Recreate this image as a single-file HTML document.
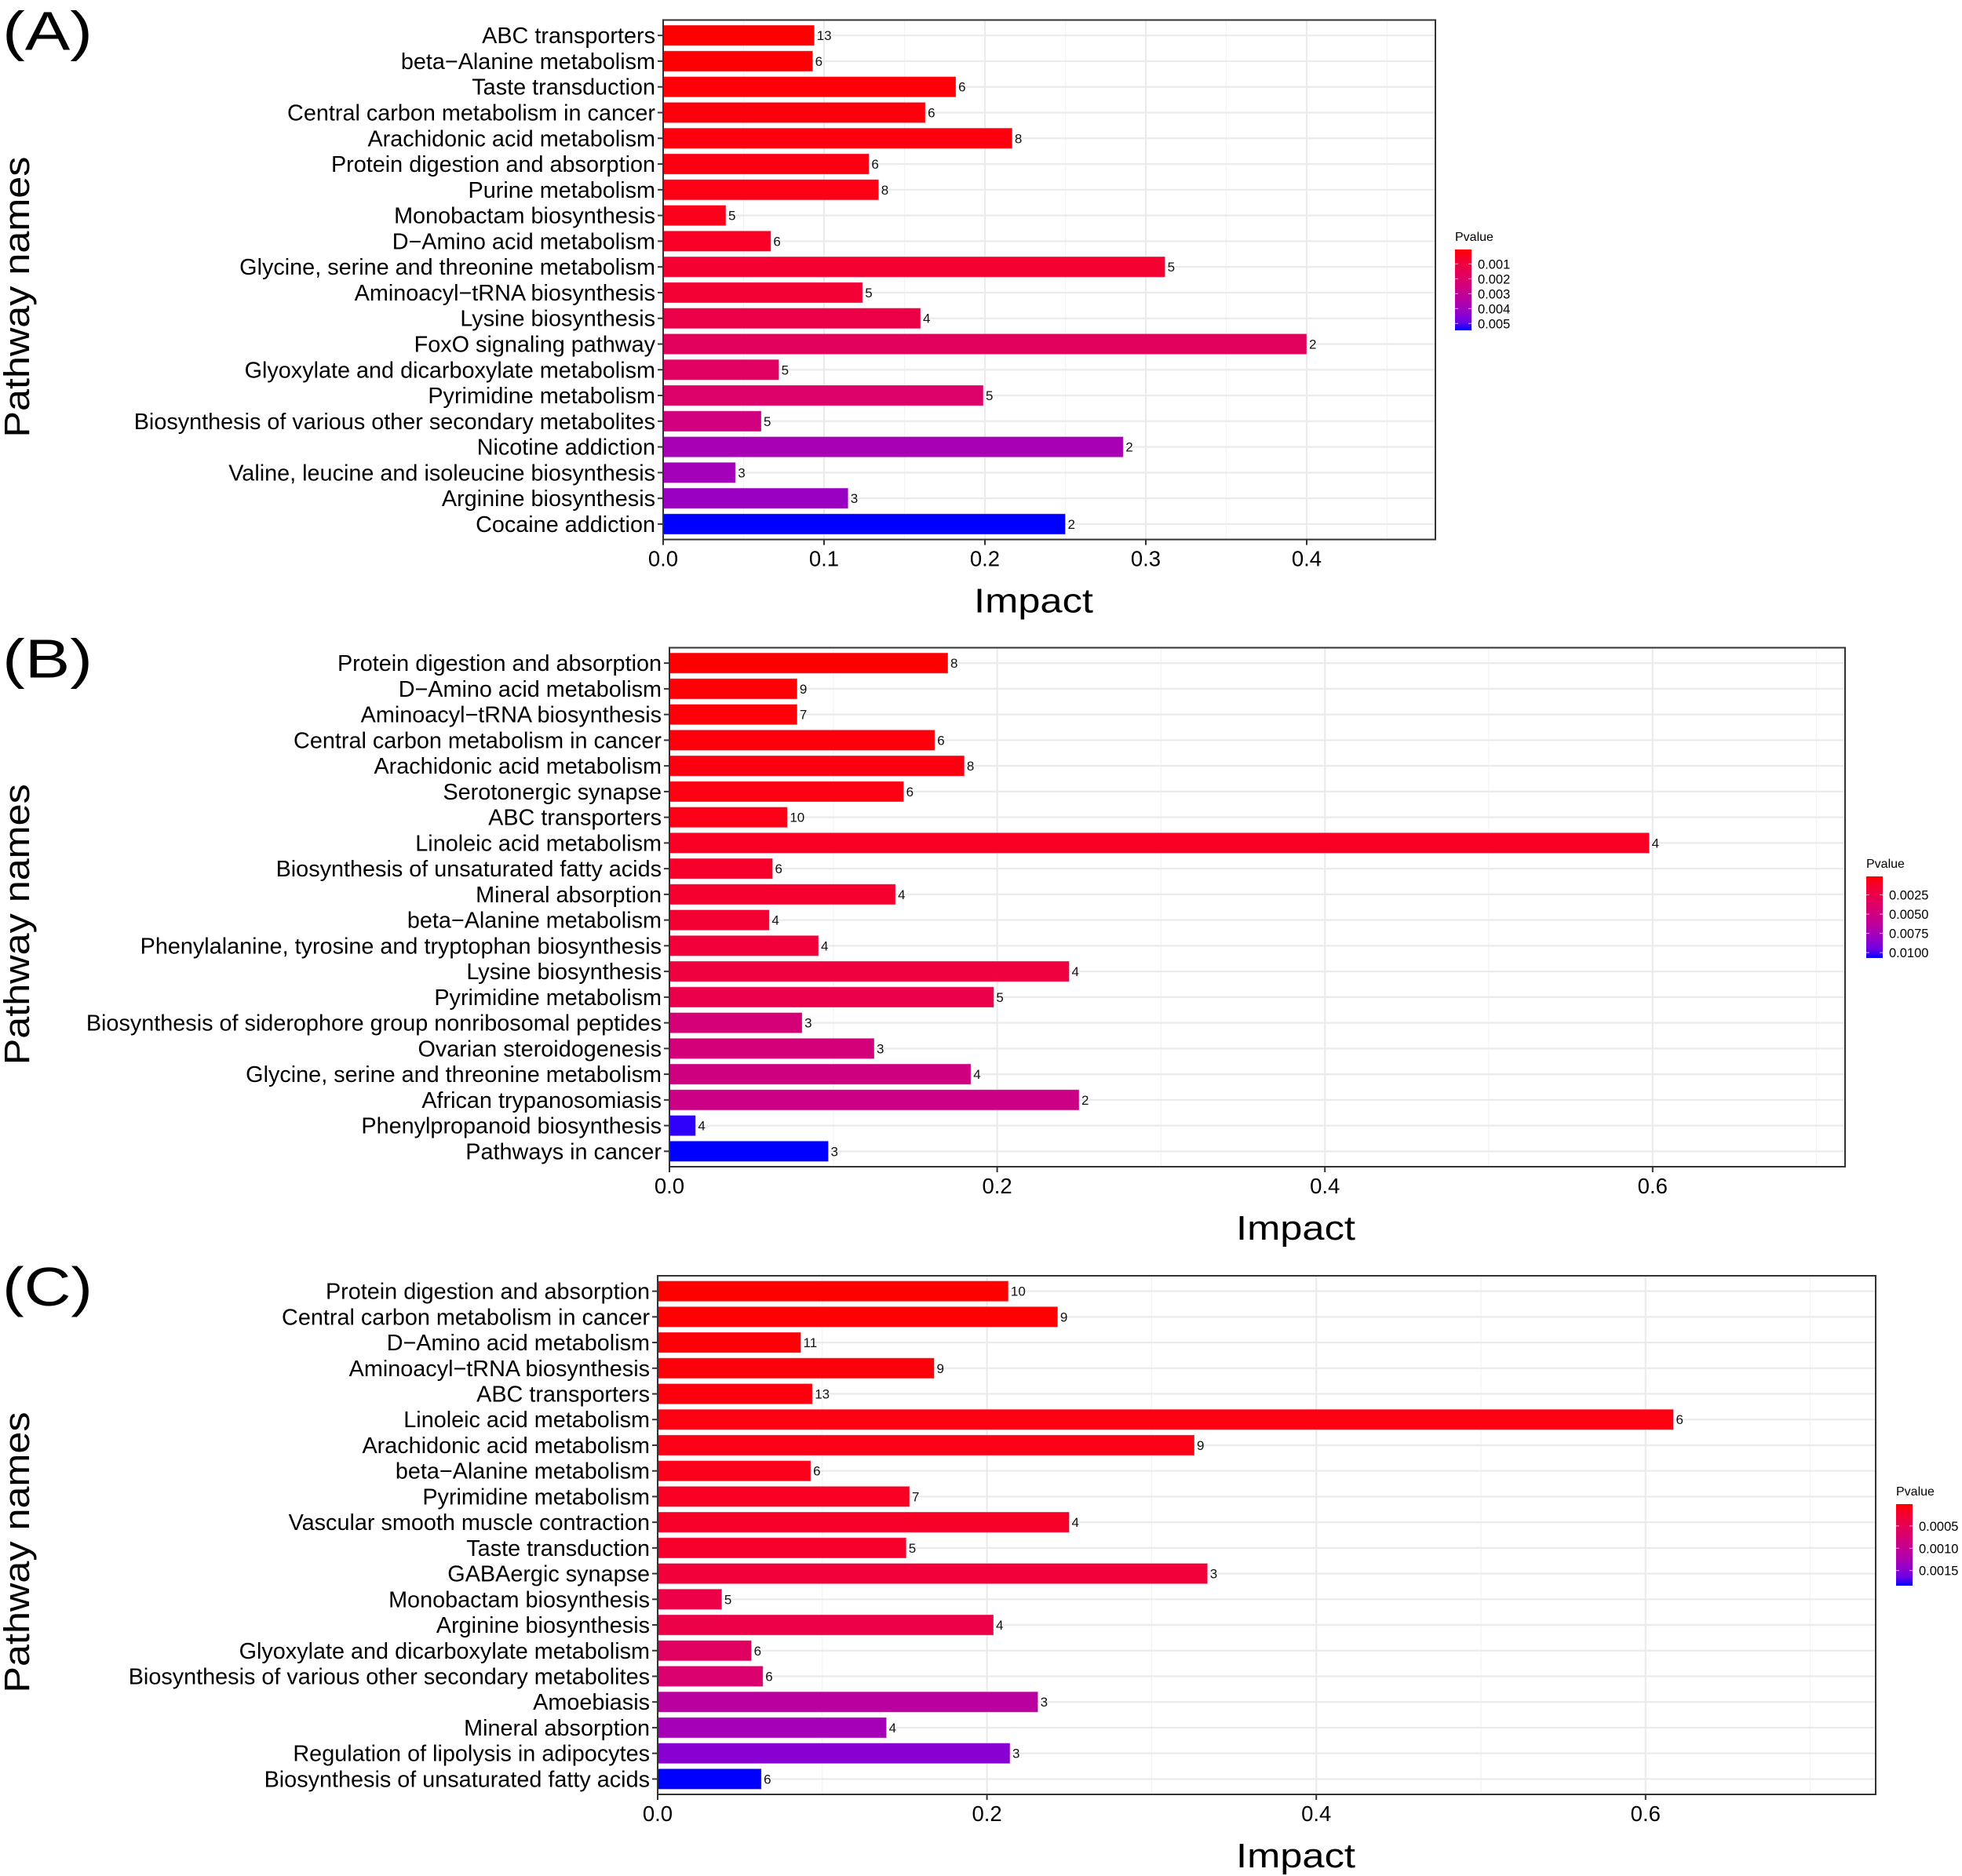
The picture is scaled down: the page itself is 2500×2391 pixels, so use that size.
<!DOCTYPE html>
<html><head><meta charset="utf-8"><style>
html,body{margin:0;padding:0;background:#fff;}
svg{display:block;font-family:"Liberation Sans",Arial,sans-serif;}
</style></head><body>
<svg id="fig" width="2500" height="2391" viewBox="0 0 2500 2391" xmlns="http://www.w3.org/2000/svg"></svg>
<script>
// ---------- Panel A data ----------
const catsA = ["ABC transporters","beta\u2212Alanine metabolism","Taste transduction","Central carbon metabolism in cancer","Arachidonic acid metabolism","Protein digestion and absorption","Purine metabolism","Monobactam biosynthesis","D\u2212Amino acid metabolism","Glycine, serine and threonine metabolism","Aminoacyl\u2212tRNA biosynthesis","Lysine biosynthesis","FoxO signaling pathway","Glyoxylate and dicarboxylate metabolism","Pyrimidine metabolism","Biosynthesis of various other secondary metabolites","Nicotine addiction","Valine, leucine and isoleucine biosynthesis","Arginine biosynthesis","Cocaine addiction"];
const impactA = [0.094,0.093,0.182,0.163,0.217,0.128,0.134,0.039,0.067,0.312,0.124,0.160,0.400,0.072,0.199,0.061,0.286,0.045,0.115,0.250];
const countA = [13,6,6,6,8,6,8,5,6,5,5,4,2,5,5,5,2,3,3,2];
const pA = [0.00003,0.00005,0.0001,0.00012,0.00015,0.0002,0.00025,0.0003,0.0005,0.0007,0.0008,0.0012,0.0017,0.0018,0.002,0.0025,0.0038,0.0039,0.0041,0.00546];
const xTicksA = [0,0.1,0.2,0.3,0.4];
const xTickLabelsA = ["0.0","0.1","0.2","0.3","0.4"];
const legendA = [0.001,0.002,0.003,0.004,0.005];
const legendLabelsA = ["0.001","0.002","0.003","0.004","0.005"];

// ---------- Panel B data ----------
const catsB = ["Protein digestion and absorption","D\u2212Amino acid metabolism","Aminoacyl\u2212tRNA biosynthesis","Central carbon metabolism in cancer","Arachidonic acid metabolism","Serotonergic synapse","ABC transporters","Linoleic acid metabolism","Biosynthesis of unsaturated fatty acids","Mineral absorption","beta\u2212Alanine metabolism","Phenylalanine, tyrosine and tryptophan biosynthesis","Lysine biosynthesis","Pyrimidine metabolism","Biosynthesis of siderophore group nonribosomal peptides","Ovarian steroidogenesis","Glycine, serine and threonine metabolism","African trypanosomiasis","Phenylpropanoid biosynthesis","Pathways in cancer"];
const impactB = [0.170,0.078,0.078,0.162,0.180,0.143,0.072,0.598,0.063,0.138,0.061,0.091,0.244,0.198,0.081,0.125,0.184,0.250,0.016,0.097];
const countB = [8,9,7,6,8,6,10,4,6,4,4,4,4,5,3,3,4,2,4,3];
const pB = [0.0001,0.0002,0.00025,0.0003,0.00035,0.0004,0.0005,0.001,0.0012,0.0013,0.0015,0.0018,0.002,0.0025,0.0045,0.0047,0.005,0.0052,0.0105,0.0107];
const xTicksB = [0,0.2,0.4,0.6];
const xTickLabelsB = ["0.0","0.2","0.4","0.6"];
const legendB = [0.0025,0.005,0.0075,0.01];
const legendLabelsB = ["0.0025","0.0050","0.0075","0.0100"];

// ---------- Panel C data ----------
const catsC = ["Protein digestion and absorption","Central carbon metabolism in cancer","D\u2212Amino acid metabolism","Aminoacyl\u2212tRNA biosynthesis","ABC transporters","Linoleic acid metabolism","Arachidonic acid metabolism","beta\u2212Alanine metabolism","Pyrimidine metabolism","Vascular smooth muscle contraction","Taste transduction","GABAergic synapse","Monobactam biosynthesis","Arginine biosynthesis","Glyoxylate and dicarboxylate metabolism","Biosynthesis of various other secondary metabolites","Amoebiasis","Mineral absorption","Regulation of lipolysis in adipocytes","Biosynthesis of unsaturated fatty acids"];
const impactC = [0.213,0.243,0.087,0.168,0.094,0.617,0.326,0.093,0.153,0.250,0.151,0.334,0.039,0.204,0.057,0.064,0.231,0.139,0.214,0.063];
const countC = [10,9,11,9,13,6,9,6,7,4,5,3,5,4,6,6,3,4,3,6];
const pC = [0.00001,0.00002,0.00003,0.00004,0.00005,0.00006,0.00008,0.0001,0.00015,0.00018,0.0002,0.0003,0.0004,0.0004,0.0006,0.0007,0.0011,0.0013,0.0015,0.00184];
const xTicksC = [0,0.2,0.4,0.6];
const xTickLabelsC = ["0.0","0.2","0.4","0.6"];
const legendC = [0.0005,0.001,0.0015];
const legendLabelsC = ["0.0005","0.0010","0.0015"];

const NS = "http://www.w3.org/2000/svg";
const svg = document.getElementById('fig');
function mk(tag, attrs, parent){const e=document.createElementNS(NS,tag);for(const k in attrs)e.setAttribute(k,attrs[k]);(parent||svg).appendChild(e);return e;}

function srgb2lin(c){c/=255;return c<=0.04045?c/12.92:Math.pow((c+0.055)/1.055,2.4);}
function lin2srgb(c){c=c<=0.0031308?12.92*c:1.055*Math.pow(c,1/2.4)-0.055;return Math.max(0,Math.min(255,Math.round(c*255)));}
function rgb2lab(r,g,b){r=srgb2lin(r);g=srgb2lin(g);b=srgb2lin(b);
 let x=(0.4124*r+0.3576*g+0.1805*b)/0.95047,y=(0.2126*r+0.7152*g+0.0722*b),z=(0.0193*r+0.1192*g+0.9505*b)/1.08883;
 const f=t=>t>0.008856?Math.cbrt(t):7.787*t+16/116;x=f(x);y=f(y);z=f(z);return [116*y-16,500*(x-y),200*(y-z)];}
function lab2rgb(L,a,bb){let y=(L+16)/116,x=a/500+y,z=y-bb/200;const fi=t=>{const t3=t*t*t;return t3>0.008856?t3:(t-16/116)/7.787;};
 x=fi(x)*0.95047;y=fi(y);z=fi(z)*1.08883;
 const r=3.2406*x-1.5372*y-0.4986*z,g=-0.9689*x+1.8758*y+0.0415*z,b=0.0557*x-0.2040*y+1.0570*z;
 return 'rgb('+lin2srgb(r)+','+lin2srgb(g)+','+lin2srgb(b)+')';}
const LR=rgb2lab(255,0,0), LB=rgb2lab(0,0,255);
function grad(t){t=Math.max(0,Math.min(1,t));return lab2rgb(LR[0]+(LB[0]-LR[0])*t,LR[1]+(LB[1]-LR[1])*t,LR[2]+(LB[2]-LR[2])*t);}

function panel(o){
 const g=mk('g',{});
 
 
 const L=o.left,R=o.right,T=o.top,B=o.bottom,n=o.cats.length;
 const xs=v=>L+(v-0)/o.xmax*(R-L);
 const step=(B-T)/(n-1+1.2);
 const ys=i=>T+step*(0.6+i);
 for(let i=0;i<o.ticks.length;i++){
  const mv=o.ticks[i]+o.tickStep/2;
  if(mv<o.xmax){const ln=mk('line',{x1:xs(mv),x2:xs(mv),y1:T,y2:B,stroke:'#F3F3F3','stroke-width':1.2},g);
   }
 }
 for(let i=0;i<o.ticks.length;i++){
  const ln=mk('line',{x1:xs(o.ticks[i]),x2:xs(o.ticks[i]),y1:T,y2:B,stroke:'#EBEBEB','stroke-width':2.2},g);
  
 }
 for(let i=0;i<n;i++){
  const ln=mk('line',{x1:L,x2:R,y1:ys(i),y2:ys(i),stroke:'#EBEBEB','stroke-width':2.2},g);
  
 }
 const pmin=Math.min(...o.p),pmax=Math.max(...o.p);
 const bh=step*0.8;
 for(let i=0;i<n;i++){
  const col=grad((o.p[i]-pmin)/(pmax-pmin));
  const r=mk('rect',{x:L,y:ys(i)-bh/2,width:xs(o.impact[i])-L,height:bh,fill:col,stroke:'rgba(255,255,255,0.35)','stroke-width':1},g);
  
  
  const t=mk('text',{x:xs(o.impact[i])+3,y:ys(i)+6,'font-size':17,fill:'#111'},g);
  t.textContent=o.count[i];
  
  const lab=mk('text',{x:L-10,y:ys(i)+10,'font-size':28.8,'text-anchor':'end',fill:'#000'},g);
  lab.textContent=o.cats[i];
  
  const tk=mk('line',{x1:L-7,x2:L,y1:ys(i),y2:ys(i),stroke:'#333','stroke-width':2},g);
  
 }
 const border=mk('rect',{x:L,y:T,width:R-L,height:B-T,fill:'none',stroke:'#333','stroke-width':2},g);
 
 for(let i=0;i<o.ticks.length;i++){
  const tk=mk('line',{x1:xs(o.ticks[i]),x2:xs(o.ticks[i]),y1:B,y2:B+7,stroke:'#333','stroke-width':2},g);
  
  const tl=mk('text',{x:xs(o.ticks[i]),y:B+34,'font-size':27.5,'text-anchor':'middle',fill:'#000'},g);
  tl.textContent=o.tickLabels[i];
  
 }
 const xt=mk('text',{x:o.titleX,y:B+93,'font-size':44,'text-anchor':'middle',textLength:152,lengthAdjust:'spacingAndGlyphs',fill:'#000'},g);
 xt.textContent='Impact';
 
 const cy=(T+B)/2+22;
 const yt=mk('text',{x:0,y:0,'font-size':45,'text-anchor':'middle',textLength:358,lengthAdjust:'spacingAndGlyphs',transform:'translate(37,'+cy+') rotate(-90)',fill:'#000'},g);
 yt.textContent='Pathway names';
 
 const pl=mk('text',{x:3,y:T+38,'font-size':70,textLength:115,lengthAdjust:'spacingAndGlyphs',fill:'#000'},g);
 pl.textContent=o.label;
 
 const lg=mk('g',{},g);
 
 const gid='g'+o.id;
 const defs=mk('defs',{},lg);
 const lgr=mk('linearGradient',{id:gid,x1:0,y1:0,x2:0,y2:1},defs);
 for(let k=0;k<=10;k++){mk('stop',{offset:k/10,'stop-color':grad(k/10)},lgr);}
 const lys=v=>o.lgTop+(v-pmin)/(pmax-pmin)*(o.lgBot-o.lgTop);
 const lt=mk('text',{x:o.lgX,y:o.lgTop-11,'font-size':16,fill:'#000'},lg);
 lt.textContent='Pvalue';
 
 const lb=mk('rect',{x:o.lgX,y:o.lgTop,width:21,height:o.lgBot-o.lgTop,fill:'url(#'+gid+')'},lg);
 
 for(let k=0;k<o.legend.length;k++){
  const yy=lys(o.legend[k]);
  mk('line',{x1:o.lgX,x2:o.lgX+4,y1:yy,y2:yy,stroke:'#fff','stroke-width':1,opacity:0.7},lg);
  mk('line',{x1:o.lgX+17,x2:o.lgX+21,y1:yy,y2:yy,stroke:'#fff','stroke-width':1,opacity:0.7},lg);
  const tx=mk('text',{x:o.lgX+29,y:yy+6,'font-size':16.5,fill:'#000'},lg);
  tx.textContent=o.legendLabels[k];
  
 }
}

panel({id:'a',label:'(A)',cats:catsA,impact:impactA,count:countA,p:pA,ticks:xTicksA,tickLabels:xTickLabelsA,tickStep:0.1,
 left:845,right:1829,top:25.5,bottom:687.6,xmax:(1829-845)/2050,legend:legendA,legendLabels:legendLabelsA,lgX:1854,lgTop:318,lgBot:421,titleX:1317});
panel({id:'b',label:'(B)',cats:catsB,impact:impactB,count:countB,p:pB,ticks:xTicksB,tickLabels:xTickLabelsB,tickStep:0.2,
 left:853,right:2351,top:825.5,bottom:1487,xmax:(2351-853)/2088,legend:legendB,legendLabels:legendLabelsB,lgX:2378,lgTop:1117,lgBot:1221,titleX:1651});
panel({id:'c',label:'(C)',cats:catsC,impact:impactC,count:countC,p:pC,ticks:xTicksC,tickLabels:xTickLabelsC,tickStep:0.2,
 left:838,right:2390,top:1626,bottom:2287,xmax:(2390-838)/2098,legend:legendC,legendLabels:legendLabelsC,lgX:2416,lgTop:1917,lgBot:2021,titleX:1651});
</script>
</body></html>
